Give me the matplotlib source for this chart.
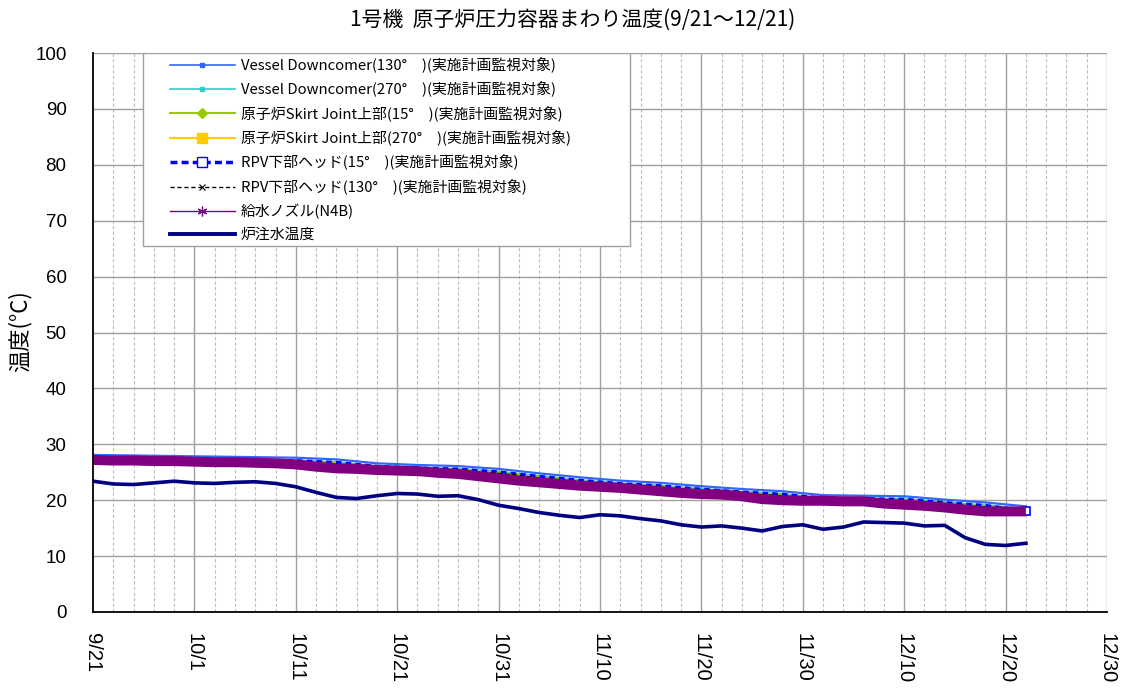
import matplotlib
matplotlib.use("Agg")
import matplotlib.pyplot as plt
from matplotlib.lines import Line2D
from matplotlib.patches import Rectangle

# ---------------- data ----------------
tick_days = [0, 10, 20, 30, 40, 50, 60, 70, 80, 90, 100]
tick_labels = ['9/21', '10/1', '10/11', '10/21', '10/31', '11/10',
               '11/20', '11/30', '12/10', '12/20', '12/30']

# days elapsed since 9/21 (2-day resolution)
days2 = [0, 2, 4, 6, 8, 10, 12, 14, 16, 18, 20, 22, 24, 26, 28, 30, 32, 34,
         36, 38, 40, 42, 44, 46, 48, 50, 52, 54, 56, 58, 60, 62, 64, 66, 68,
         70, 72, 74, 76, 78, 80, 82, 84, 86, 88, 90, 92]

injection = [23.4, 22.9, 22.8, 23.1, 23.4, 23.1, 23.0, 23.2, 23.3, 23.0, 22.4,
             21.4, 20.5, 20.3, 20.8, 21.2, 21.1, 20.7, 20.8, 20.1, 19.1, 18.5,
             17.8, 17.3, 16.9, 17.4, 17.2, 16.7, 16.3, 15.6, 15.2, 15.4, 15.0,
             14.5, 15.3, 15.6, 14.8, 15.2, 16.1, 16.0, 15.9, 15.4, 15.5, 13.3,
             12.1, 11.9, 12.3]

feedwater_n4b = [27.2, 27.1, 27.1, 27.0, 27.0, 26.9, 26.8, 26.8, 26.7, 26.6,
                 26.4, 26.0, 25.7, 25.6, 25.4, 25.3, 25.2, 24.9, 24.7, 24.3,
                 23.9, 23.5, 23.2, 22.9, 22.6, 22.4, 22.2, 21.9, 21.6, 21.3,
                 21.1, 21.0, 20.7, 20.2, 20.0, 19.9, 19.9, 19.8, 19.8, 19.4,
                 19.2, 19.0, 18.7, 18.3, 18.0, 18.0, 18.0]

# 4-day resolution for the series mostly hidden behind the feedwater band
days4 = [0, 4, 8, 12, 16, 20, 24, 28, 32, 36, 40, 44, 48, 52, 56, 60, 64, 68,
         72, 76, 80, 84, 88, 92]
downcomer_130 = [28.1, 28.0, 27.9, 27.8, 27.7, 27.6, 27.3, 26.6, 26.3, 26.1,
                 25.6, 24.8, 24.1, 23.5, 23.1, 22.5, 22.0, 21.6, 20.9, 20.8,
                 20.7, 20.1, 19.6, 18.9]
downcomer_270 = [27.6, 27.5, 27.4, 27.3, 27.2, 27.1, 26.8, 26.1, 25.8, 25.6,
                 25.1, 24.3, 23.6, 23.0, 22.6, 22.0, 21.5, 21.1, 20.4, 20.3,
                 20.2, 19.6, 19.1, 18.4]
skirt_15 = [27.4, 27.3, 27.2, 27.1, 27.0, 26.9, 26.6, 25.9, 25.6, 25.4, 24.9,
            24.1, 23.4, 22.8, 22.4, 21.8, 21.3, 20.9, 20.2, 20.1, 20.0, 19.4,
            18.9, 18.2]
skirt_270 = [27.0, 26.9, 26.8, 26.7, 26.6, 26.5, 26.2, 25.5, 25.2, 25.0, 24.5,
             23.7, 23.0, 22.4, 22.0, 21.4, 20.9, 20.5, 19.8, 19.7, 19.6, 19.0,
             18.5, 17.8]
rpv_15 = [27.6, 27.5, 27.4, 27.3, 27.2, 27.1, 26.8, 26.1, 25.8, 25.6, 25.1,
          24.3, 23.6, 23.0, 22.6, 22.0, 21.5, 21.1, 20.4, 20.3, 20.2, 19.6,
          19.1, 18.1]
rpv_130 = [27.3, 27.1, 27.1, 26.9, 26.9, 26.7, 26.5, 25.8, 25.4, 25.3, 24.8,
           24.0, 23.3, 22.7, 22.3, 21.7, 21.2, 20.8, 20.1, 20.0, 19.9, 19.3,
           18.8, 18.1]

labels = ['Vessel Downcomer(130°　)(実施計画監視対象)',
          'Vessel Downcomer(270°　)(実施計画監視対象)',
          '原子炉Skirt Joint上部(15°　)(実施計画監視対象)',
          '原子炉Skirt Joint上部(270°　)(実施計画監視対象)',
          'RPV下部ヘッド(15°　)(実施計画監視対象)',
          'RPV下部ヘッド(130°　)(実施計画監視対象)',
          '給水ノズル(N4B)',
          '炉注水温度']
title = '1号機  原子炉圧力容器まわり温度(9/21～12/21)'
ylabel = '温度(°C)'

# ---------------- style ----------------
cjk = ['Noto Sans CJK JP', 'DejaVu Sans']
num_font = ['Liberation Sans', 'DejaVu Sans']
plt.rcParams['font.family'] = cjk

c_dc130 = '#3366FF'
c_dc270 = '#33CCCC'
c_sk15 = '#99CC00'
c_sk270 = '#FFCC00'
c_rpv15 = '#0000FF'
c_rpv130 = '#000000'
c_fw = '#800080'
c_inj = '#000080'

fig = plt.figure(figsize=(11.46, 6.93), dpi=100)
ax = fig.add_axes([93/1146, 1-612/693, (1107-93)/1146, (612-53)/693])

ax.set_xlim(0, 100)
ax.set_ylim(0, 100)

# grid
for d in range(2, 100, 2):
    if d % 10 != 0:
        ax.axvline(d, color='#BEBEBE', lw=0.8, ls=(0, (3, 2)), zorder=0)
for d in tick_days[1:]:
    ax.axvline(d, color='#A0A0A0', lw=1.0, zorder=0)
for v in range(10, 101, 10):
    ax.axhline(v, color='#A0A0A0', lw=1.0, zorder=0)

# series
ax.plot(days4, downcomer_130, color=c_dc130, lw=1.6, zorder=2)
ax.plot(days4, downcomer_270, color=c_dc270, lw=1.5, zorder=2)
ax.plot(days4, skirt_15, color=c_sk15, lw=1.5, zorder=2)
ax.plot(days4, skirt_270, color=c_sk270, lw=1.5, zorder=2)
ax.plot(days4, rpv_15, color=c_rpv15, lw=2.0, ls=(0, (2, 1.5)), zorder=2,
        marker='s', ms=6, mfc='white', mec=c_rpv15, mew=1.2,
        markevery=[len(days4) - 1])
ax.plot(days4, rpv_130, color=c_rpv130, lw=1.0, ls='--', zorder=2)
ax.plot(days2, feedwater_n4b, color=c_fw, lw=7.2, solid_capstyle='butt',
        solid_joinstyle='round', zorder=3)
ax.plot(days2, injection, color=c_inj, lw=2.6, solid_joinstyle='round',
        zorder=4)

# axes styling
for s in ['top', 'right']:
    ax.spines[s].set_visible(False)
for s in ['left', 'bottom']:
    ax.spines[s].set_color('black')
    ax.spines[s].set_linewidth(1.3)
    ax.spines[s].set_zorder(5)

ax.set_yticks(range(0, 101, 10))
ax.set_xticks(tick_days)
ax.set_xticklabels(tick_labels, rotation=-90, va='top', ha='center')
ax.tick_params(axis='both', length=0)
ax.tick_params(axis='y', pad=19, labelsize=13.5)
ax.tick_params(axis='x', pad=15, labelsize=14.5)
for t in ax.get_xticklabels() + ax.get_yticklabels():
    t.set_fontfamily(num_font)

# legend box
ax.add_patch(Rectangle(((143-93)/1014, (612-246)/559), (630-143)/1014,
                       (246-53)/559, transform=ax.transAxes, facecolor='white',
                       edgecolor='#A0A0A0', lw=1.0, zorder=6))

handles = [
    Line2D([], [], color=c_dc130, lw=1.2, marker='s', ms=3, mfc=c_dc130, mec=c_dc130),
    Line2D([], [], color=c_dc270, lw=1.2, marker='s', ms=3, mfc=c_dc270, mec=c_dc270),
    Line2D([], [], color=c_sk15, lw=1.5, marker='D', ms=5, mfc=c_sk15, mec=c_sk15),
    Line2D([], [], color=c_sk270, lw=1.5, marker='s', ms=6.5, mfc=c_sk270, mec=c_sk270),
    Line2D([], [], color=c_rpv15, lw=2.5, ls=(0, (2, 1.2)), marker='s', ms=7,
           mfc='white', mec=c_rpv15, mew=1.0),
    Line2D([], [], color=c_rpv130, lw=1.0, ls=(0, (3, 2)), marker='x', ms=5, mew=0.8),
    Line2D([], [], color=c_fw, lw=1.0, marker=(6, 2, 0), ms=7, mew=0.9, mec=c_fw),
    Line2D([], [], color=c_inj, lw=2.8),
]
leg = ax.legend(handles, labels, loc='upper left',
                bbox_to_anchor=((170-93)/1014, 1 - 4/559), frameon=False,
                fontsize=10.7, handlelength=4.36, handletextpad=0.4,
                labelspacing=0.59, borderaxespad=0.0, borderpad=0.0)
leg.set_zorder(7)

fig.text(0.5, 1-20/693, title, ha='center', va='center', fontsize=15)
fig.text(20/1146, 1-331/693, ylabel, ha='center', va='center', rotation=90,
         fontsize=16)

fig.savefig('out.png', dpi=100)
